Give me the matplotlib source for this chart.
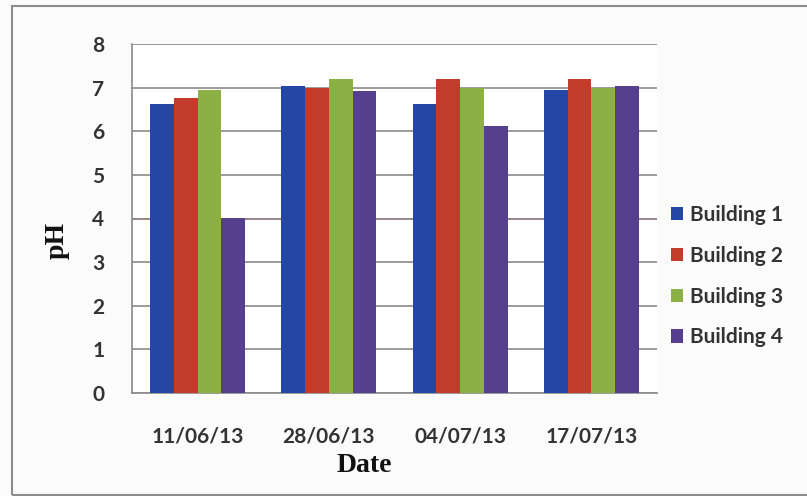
import matplotlib
matplotlib.use("Agg")
import matplotlib.pyplot as plt
import numpy as np
from matplotlib.patches import Rectangle

dates = ["11/06/13", "28/06/13", "04/07/13", "17/07/13"]
series_names = ["Building 1", "Building 2", "Building 3", "Building 4"]
building1 = [6.63, 7.04, 6.63, 6.95]
building2 = [6.77, 6.98, 7.20, 7.20]
building3 = [6.95, 7.20, 6.98, 6.98]
building4 = [4.01, 6.93, 6.12, 7.04]
colors = ["#2447a5", "#c23b2b", "#8cb043", "#56408e"]

fig = plt.figure(figsize=(8.07, 4.96), dpi=100)
fig.patch.set_facecolor("#fbfbfb")
ax = fig.add_axes([132/807, 1-393/496, (657-132)/807, (393-44)/496])
ax.set_facecolor("white")

x = np.arange(len(dates))
w = 0.181
for i, (vals, c, n) in enumerate(zip([building1, building2, building3, building4], colors, series_names)):
    ax.bar(x + (i - 1.5) * w, vals, width=w, color=c, label=n, zorder=3)

ax.set_xlim(-0.5, 3.5)
ax.set_ylim(0, 8)
ax.set_yticks(range(0, 9))
ax.yaxis.grid(True, color="#8a8a8a", linewidth=1.2, zorder=0)
ax.axhline(4, color="#d86a62", linewidth=1.2, zorder=1)
for s in ["top", "right"]:
    ax.spines[s].set_visible(False)
for s in ["left", "bottom"]:
    ax.spines[s].set_color("#8a8a8a")
    ax.spines[s].set_linewidth(1.2)
ax.tick_params(axis="both", length=0, labelsize=15, labelcolor="#333333")
ax.tick_params(axis="y", pad=20)
ax.tick_params(axis="x", pad=24)
ax.set_xticks(x)
ax.set_xticklabels(dates)
for lab in ax.get_xticklabels() + ax.get_yticklabels():
    lab.set_fontfamily("Lato")
    lab.set_fontweight("bold")

fig.text(364/807, 1-466/496, "Date", fontfamily="Liberation Serif", fontweight="bold",
         fontsize=20, ha="center", va="center", color="#111111")
fig.text(57/807, 1-240/496, "pH", fontfamily="Liberation Serif", fontweight="bold",
         fontsize=20, ha="center", va="center", rotation=90, color="#111111")

leg = ax.legend(loc="center left", bbox_to_anchor=(0.99, 0.335), frameon=False,
                handlelength=0.6, handleheight=0.6, handletextpad=0.35,
                labelspacing=1.0, prop={"family": "Lato", "weight": "bold", "size": 15})
for t in leg.get_texts():
    t.set_color("#333333")

fig.add_artist(Rectangle((12/807, 1-495/496), 1.0, (495-6)/496, transform=fig.transFigure,
                         fill=False, edgecolor="#8c8c8c", linewidth=1.5))

fig.savefig("out.png", dpi=100, facecolor=fig.get_facecolor())
